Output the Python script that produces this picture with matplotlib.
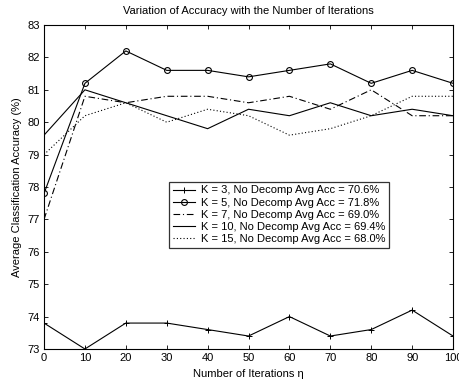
import matplotlib
matplotlib.use('Agg')
from matplotlib import pyplot as plt

plt.rcParams['font.family'] = ['Liberation Sans', 'DejaVu Sans']

iters = [0, 10, 20, 30, 40, 50, 60, 70, 80, 90, 100]
acc_k3 = [73.8, 73.0, 73.8, 73.8, 73.6, 73.4, 74.0, 73.4, 73.6, 74.2, 73.4]
acc_k5 = [77.8, 81.2, 82.2, 81.6, 81.6, 81.4, 81.6, 81.8, 81.2, 81.6, 81.2]
acc_k7 = [77.0, 80.8, 80.6, 80.8, 80.8, 80.6, 80.8, 80.4, 81.0, 80.2, 80.2]
acc_k10 = [79.6, 81.0, 80.6, 80.2, 79.8, 80.4, 80.2, 80.6, 80.2, 80.4, 80.2]
acc_k15 = [79.0, 80.2, 80.6, 80.0, 80.4, 80.2, 79.6, 79.8, 80.2, 80.8, 80.8]
labels = ['K = 3, No Decomp Avg Acc = 70.6%',
          'K = 5, No Decomp Avg Acc = 71.8%',
          'K = 7, No Decomp Avg Acc = 69.0%',
          'K = 10, No Decomp Avg Acc = 69.4%',
          'K = 15, No Decomp Avg Acc = 68.0%']

fig = plt.figure(figsize=(4.59, 3.83), dpi=100)
ax = fig.add_axes([0.0959, 0.0888, 0.8911, 0.8459])

lw = 0.8
fs = 8.0
ax.plot(iters, acc_k3, color='black', linewidth=lw, marker='+', markersize=5, markeredgewidth=0.7, label=labels[0])
ax.plot(iters, acc_k5, color='black', linewidth=lw, marker='o', markersize=4.2, markerfacecolor='none', markeredgewidth=0.8, label=labels[1])
ax.plot(iters, acc_k7, color='black', linewidth=lw, linestyle=(0, (6, 2.5, 1, 2.5)), label=labels[2])
ax.plot(iters, acc_k10, color='black', linewidth=lw, linestyle='-', label=labels[3])
ax.plot(iters, acc_k15, color='black', linewidth=lw, linestyle=(0, (1, 2)), label=labels[4])

ax.set_xlim(0, 100)
ax.set_ylim(73, 83)
ax.set_xticks(iters)
ax.set_yticks(range(73, 84))
ax.tick_params(direction='in', top=True, right=True, labelsize=fs, length=3, width=0.6, pad=3)
for s in ax.spines.values():
    s.set_linewidth(0.8)

ax.set_title('Variation of Accuracy with the Number of Iterations', fontsize=fs, pad=8)
ax.set_xlabel('Number of Iterations \u03b7', fontsize=fs, labelpad=4)
ax.set_ylabel('Average Classification Accuracy (%)', fontsize=fs, labelpad=4)

leg = ax.legend(loc='center', bbox_to_anchor=(0.575, 0.414), fontsize=fs, frameon=True,
                fancybox=False, edgecolor='black', handlelength=2.0, handletextpad=0.5,
                labelspacing=0.2, borderpad=0.35, borderaxespad=0)
leg.get_frame().set_linewidth(0.9)

fig.savefig('out.png', dpi=100)
